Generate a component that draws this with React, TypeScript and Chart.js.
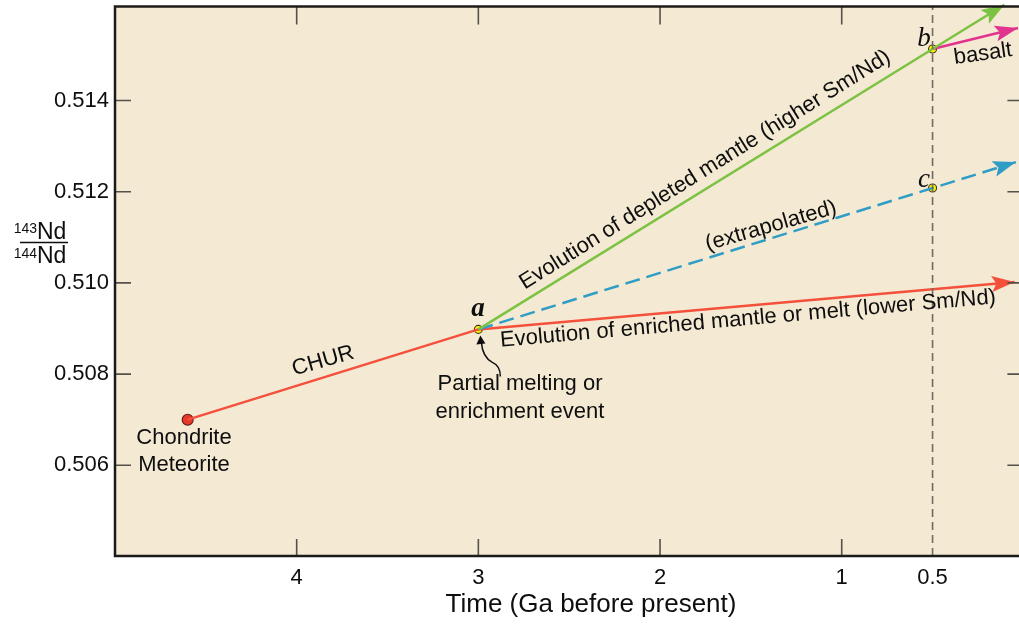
import React, { useEffect, useRef } from "react";
import { Chart, registerables } from "chart.js";

Chart.register(...registerables);

// ---- data (Time in Ga before present, 143Nd/144Nd) ----
const xTickValues = [4, 3, 2, 1, 0.5];
const yTickValues = [0.506, 0.508, 0.51, 0.512, 0.514];

const churTime = [4.6, 3.0];
const churRatio = [0.507, 0.50898];

const depletedTime = [3.0, 0.5, 0.105];
const depletedRatio = [0.50898, 0.51513, 0.5161];

const extrapTime = [3.0, 0.5, 0.041];
const extrapRatio = [0.50898, 0.51208, 0.51265];

const enrichedTime = [3.0, 0.048];
const enrichedRatio = [0.50898, 0.51002];

const basaltTime = [0.5, 0.03];
const basaltRatio = [0.51513, 0.51559];

const markerTime = [4.6, 3.0, 0.5, 0.5];
const markerRatio = [0.507, 0.50898, 0.51513, 0.51208];

const xMin = 0;
const xMax = 5;
const yMin = 0.50401;
const yMax = 0.51606;
const markerTimeLine = [0.5, 0.5];

const FONT = '"Liberation Sans", Arial, Helvetica, sans-serif';
const SERIF = '"Liberation Serif", "DejaVu Serif", serif';
const RED = "#f4503c";
const GREEN = "#7cc243";
const BLUE = "#2f9dc6";
const MAGENTA = "#e2338e";
const BG = "#f4e9d3";
const INK = "#0e0e0e";

const pts = (xs: number[], ys: number[]) => xs.map((x, i) => ({ x, y: ys[i] }));

export default function App() {
  const ref = useRef<HTMLCanvasElement>(null);

  useEffect(() => {
    const bgPlugin = {
      id: "bgPlugin",
      beforeDatasetsDraw(chart: any) {
        const { ctx, chartArea: a } = chart;
        ctx.save();
        ctx.fillStyle = BG;
        ctx.fillRect(a.left, a.top, a.right - a.left, a.bottom - a.top);
        ctx.restore();
      },
    };

    const decoPlugin = {
      id: "decoPlugin",
      afterDatasetsDraw(chart: any) {
        const { ctx, chartArea: a, scales } = chart;
        const xs = scales.x;
        const ys = scales.y;
        ctx.save();
        // arrowheads
        chart.data.datasets.forEach((ds: any, i: number) => {
          if (!ds.arrow) return;
          const meta = chart.getDatasetMeta(i);
          const n = meta.data.length;
          const p1 = meta.data[n - 2];
          const p2 = meta.data[n - 1];
          const ang = Math.atan2(p2.y - p1.y, p2.x - p1.x);
          const L = 23;
          const W = 8;
          ctx.save();
          ctx.translate(p2.x, p2.y);
          ctx.rotate(ang);
          ctx.fillStyle = ds.borderColor;
          ctx.beginPath();
          ctx.moveTo(0, 0);
          ctx.lineTo(-L, -W);
          ctx.lineTo(-L * 0.8, 0);
          ctx.lineTo(-L, W);
          ctx.closePath();
          ctx.fill();
          ctx.restore();
        });

        // ticks (inward)
        ctx.strokeStyle = "#55524c";
        ctx.lineWidth = 1.6;
        ctx.beginPath();
        yTickValues.forEach((v) => {
          const y = ys.getPixelForValue(v);
          ctx.moveTo(a.left, y);
          ctx.lineTo(a.left + 16, y);
          ctx.moveTo(a.right, y);
          ctx.lineTo(a.right - 16, y);
        });
        xTickValues.forEach((v) => {
          if (v === 0.5) return;
          const x = xs.getPixelForValue(v);
          ctx.moveTo(x, a.bottom);
          ctx.lineTo(x, a.bottom - 17);
          ctx.moveTo(x, a.top);
          ctx.lineTo(x, a.top + 18);
        });
        ctx.stroke();

        // frame
        ctx.strokeStyle = "#1c1b19";
        ctx.lineWidth = 2.5;
        ctx.beginPath();
        ctx.moveTo(a.right, a.top);
        ctx.lineTo(a.left, a.top);
        ctx.lineTo(a.left, a.bottom);
        ctx.lineTo(a.right, a.bottom);
        ctx.lineTo(a.right, a.top);
        ctx.stroke();
        ctx.restore();
      },
      afterDraw(chart: any) {
        const { ctx, scales } = chart;
        const xs = scales.x;
        const ys = scales.y;
        const ax = xs.getPixelForValue(markerTime[1]);
        const ay = ys.getPixelForValue(markerRatio[1]);
        ctx.save();
        ctx.fillStyle = INK;
        const txt = (s: string, x: number, y: number, rotDeg: number, font: string) => {
          ctx.save();
          ctx.translate(x, y);
          ctx.rotate((rotDeg * Math.PI) / 180);
          ctx.font = font;
          ctx.textAlign = "center";
          ctx.textBaseline = "middle";
          ctx.fillText(s, 0, 0);
          ctx.restore();
        };
        const f22 = `22px ${FONT}`;
        txt("CHUR", 323, 361, -16, f22);
        txt("Evolution of depleted mantle (higher Sm/Nd)", 705, 170, -32, f22);
        txt("(extrapolated)", 771, 226, -16, f22);
        txt("Evolution of enriched mantle or melt (lower Sm/Nd)", 748, 319, -5, f22);
        txt("basalt", 983, 54, -8, f22);
        txt("Partial melting or", 520, 384, 0, f22);
        txt("enrichment event", 520, 412, 0, f22);
        txt("Chondrite", 184, 438, 0, f22);
        txt("Meteorite", 184, 465, 0, f22);
        txt("a", 478, 309, 0, `italic bold 27px ${SERIF}`);
        txt("b", 924, 39, 0, `italic 27px ${SERIF}`);
        txt("c", 924, 180, 0, `italic 27px ${SERIF}`);
        txt("Time (Ga before present)", 591, 605, 0, `26px ${FONT}`);

        // curved pointer arrow to event a
        ctx.strokeStyle = INK;
        ctx.lineWidth = 1.5;
        ctx.beginPath();
        ctx.moveTo(ax + 3, ay + 13);
        ctx.bezierCurveTo(ax + 4, ay + 24, ax + 8, ay + 30, ax + 14, ay + 33);
        ctx.bezierCurveTo(ax + 21, ay + 36, ax + 22, ay + 42, ax + 22, ay + 47);
        ctx.stroke();
        ctx.beginPath();
        ctx.moveTo(ax + 2, ay + 6);
        ctx.lineTo(ax - 2, ay + 15);
        ctx.lineTo(ax + 7, ay + 14);
        ctx.closePath();
        ctx.fill();

        // y axis label 143Nd / 144Nd
        ctx.textBaseline = "alphabetic";
        ctx.textAlign = "right";
        ctx.font = `14px ${FONT}`;
        ctx.fillText("143", 37, 233);
        ctx.fillText("144", 37, 258);
        ctx.textAlign = "left";
        ctx.font = `23px ${FONT}`;
        ctx.fillText("Nd", 37, 239);
        ctx.fillText("Nd", 37, 263);
        ctx.lineWidth = 1.3;
        ctx.beginPath();
        ctx.moveTo(20, 242.5);
        ctx.lineTo(68, 242.5);
        ctx.stroke();
        ctx.restore();
      },
    };

    const lineDs = (label: string, xs: number[], ys: number[], color: string, extra: any = {}) => ({
      label,
      data: pts(xs, ys),
      showLine: true,
      borderColor: color,
      backgroundColor: color,
      borderWidth: 2.5,
      pointRadius: 0,
      pointHoverRadius: 0,
      fill: false,
      tension: 0,
      ...extra,
    });

    const chart = new Chart(ref.current as HTMLCanvasElement, {
      type: "scatter",
      data: {
        datasets: [
          lineDs("0.5 Ga", markerTimeLine, [yMin, yMax], "#6f6b62", {
            borderWidth: 1.6,
            borderDash: [8, 5],
          }),
          lineDs("CHUR", churTime, churRatio, RED),
          lineDs("Depleted mantle", depletedTime, depletedRatio, GREEN, { arrow: true, clip: false }),
          lineDs("Extrapolated", extrapTime, extrapRatio, BLUE, { arrow: true, borderDash: [15, 7], clip: false }),
          lineDs("Enriched mantle", enrichedTime, enrichedRatio, RED, { arrow: true }),
          lineDs("Basalt", basaltTime, basaltRatio, MAGENTA, { arrow: true, clip: false }),
          {
            label: "Events",
            data: pts(markerTime, markerRatio),
            showLine: false,
            pointRadius: [5.5, 4, 4, 4],
            pointBackgroundColor: ["#e8382a", "#fff200", "#fff200", "#fff200"],
            pointBorderColor: ["#5a1810", "#3a3520", "#3a3520", "#3a3520"],
            pointBorderWidth: 1.1,
          } as any,
        ] as any,
      },
      options: {
        animation: false,
        responsive: false,
        events: [],
        layout: { padding: { top: 6, right: 3, left: 0, bottom: 0 } },
        plugins: {
          legend: { display: false },
          tooltip: { enabled: false },
        },
        scales: {
          x: {
            type: "linear",
            reverse: true,
            min: xMin,
            max: xMax,
            grid: { display: false, drawTicks: false },
            border: { display: false },
            afterBuildTicks: (s: any) => {
              s.ticks = xTickValues.map((v) => ({ value: v }));
            },
            afterFit: (s: any) => {
              s.height = 68;
              s.paddingLeft = 0;
              s.paddingRight = 0;
            },
            ticks: {
              padding: 9,
              color: INK,
              font: { family: FONT, size: 22 },
              maxRotation: 0,
              autoSkip: false,
              callback: (v: any) => String(v),
            },
          },
          y: {
            type: "linear",
            min: yMin,
            max: yMax,
            grid: { display: false, drawTicks: false },
            border: { display: false },
            afterBuildTicks: (s: any) => {
              s.ticks = yTickValues.map((v) => ({ value: v }));
            },
            afterFit: (s: any) => {
              s.width = 115;
              s.paddingTop = 0;
              s.paddingBottom = 0;
            },
            ticks: {
              padding: 6,
              color: INK,
              font: { family: FONT, size: 22 },
              autoSkip: false,
              callback: (v: any) => Number(v).toFixed(3),
            },
          },
        },
      } as any,
      plugins: [bgPlugin, decoPlugin],
    });
    return () => chart.destroy();
  }, []);

  return (
    <div
      style={{
        position: "fixed",
        left: 0,
        top: 0,
        width: 1019,
        height: 624,
        overflow: "hidden",
        background: "#ffffff",
      }}
    >
      <canvas ref={ref} width={1030} height={624} style={{ width: 1030, height: 624, display: "block" }} />
    </div>
  );
}
